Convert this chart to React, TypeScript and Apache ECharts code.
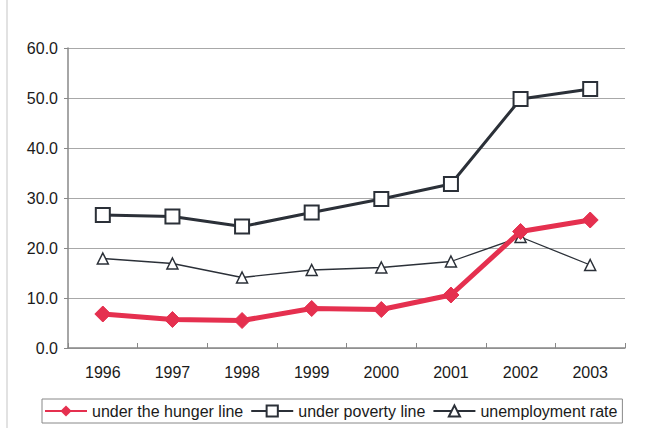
import React, { useEffect, useRef } from "react";
import * as echarts from "echarts";

const years = ["1996", "1997", "1998", "1999", "2000", "2001", "2002", "2003"];
const hunger = [6.8, 5.7, 5.5, 7.9, 7.7, 10.6, 23.3, 25.6];
const poverty = [26.6, 26.3, 24.3, 27.1, 29.8, 32.8, 49.8, 51.8];
const unemployment = [17.9, 16.9, 14.1, 15.6, 16.1, 17.3, 22.2, 16.6];
const seriesNames = ["under the hunger line", "under poverty line", "unemployment rate"];

export default function App() {
  const ref = useRef<HTMLDivElement>(null);
  useEffect(() => {
    const chart = echarts.init(ref.current!, null, { renderer: "svg" });
    const font = "'Liberation Sans', Arial, sans-serif";
    chart.setOption({
      animation: false,
      backgroundColor: "#ffffff",
      textStyle: { fontFamily: font },
      grid: { left: 68, right: 28, top: 48, bottom: 80 },
      graphic: [
        {
          type: "line",
          shape: { x1: 7, y1: 0, x2: 7, y2: 428 },
          style: { stroke: "#d8d8d8", lineWidth: 1.5 },
        },
      ],
      legend: {
        left: 42,
        top: 399,
        itemWidth: 42,
        itemHeight: 14,
        itemGap: 7,
        padding: [4, 5, 4, 2],
        borderColor: "#888",
        borderWidth: 1,
        borderRadius: 0,
        textStyle: { fontSize: 16, color: "#1a1a1a", fontFamily: font },
        data: seriesNames,
      },
      xAxis: {
        type: "category",
        data: years,
        boundaryGap: true,
        axisLine: { lineStyle: { color: "#888", width: 1.5 } },
        axisTick: { show: true, inside: true, length: 5, lineStyle: { color: "#888" } },
        axisLabel: { fontSize: 16, color: "#1a1a1a", margin: 16 },
      },
      yAxis: {
        type: "value",
        min: 0,
        max: 60,
        interval: 10,
        axisLine: { show: true, lineStyle: { color: "#888", width: 1.5 } },
        axisTick: { show: true, length: 4, lineStyle: { color: "#888" } },
        axisLabel: { fontSize: 16, color: "#1a1a1a", margin: 10, formatter: (v: number) => v.toFixed(1) },
        splitLine: { lineStyle: { color: "#a8a8a8", width: 1 } },
      },
      series: [
        {
          name: seriesNames[0],
          type: "line",
          data: hunger,
          z: 4,
          symbol: "diamond",
          symbolSize: 16,
          lineStyle: { color: "#e5304f", width: 5 },
          itemStyle: { color: "#e5304f", borderColor: "#e5304f" },
        },
        {
          name: seriesNames[1],
          type: "line",
          data: poverty,
          z: 3,
          symbol: "rect",
          symbolSize: 14,
          lineStyle: { color: "#2b3038", width: 3 },
          itemStyle: { color: "#ffffff", borderColor: "#2b3038", borderWidth: 2 },
        },
        {
          name: seriesNames[2],
          type: "line",
          data: unemployment,
          z: 2,
          symbol: "triangle",
          symbolSize: 11,
          lineStyle: { color: "#2b3038", width: 1.3 },
          itemStyle: { color: "#ffffff", borderColor: "#2b3038", borderWidth: 1.5 },
        },
      ],
    });
    return () => chart.dispose();
  }, []);
  return <div ref={ref} style={{ width: 653, height: 428, position: "absolute", left: 0, top: 0 }} />;
}
